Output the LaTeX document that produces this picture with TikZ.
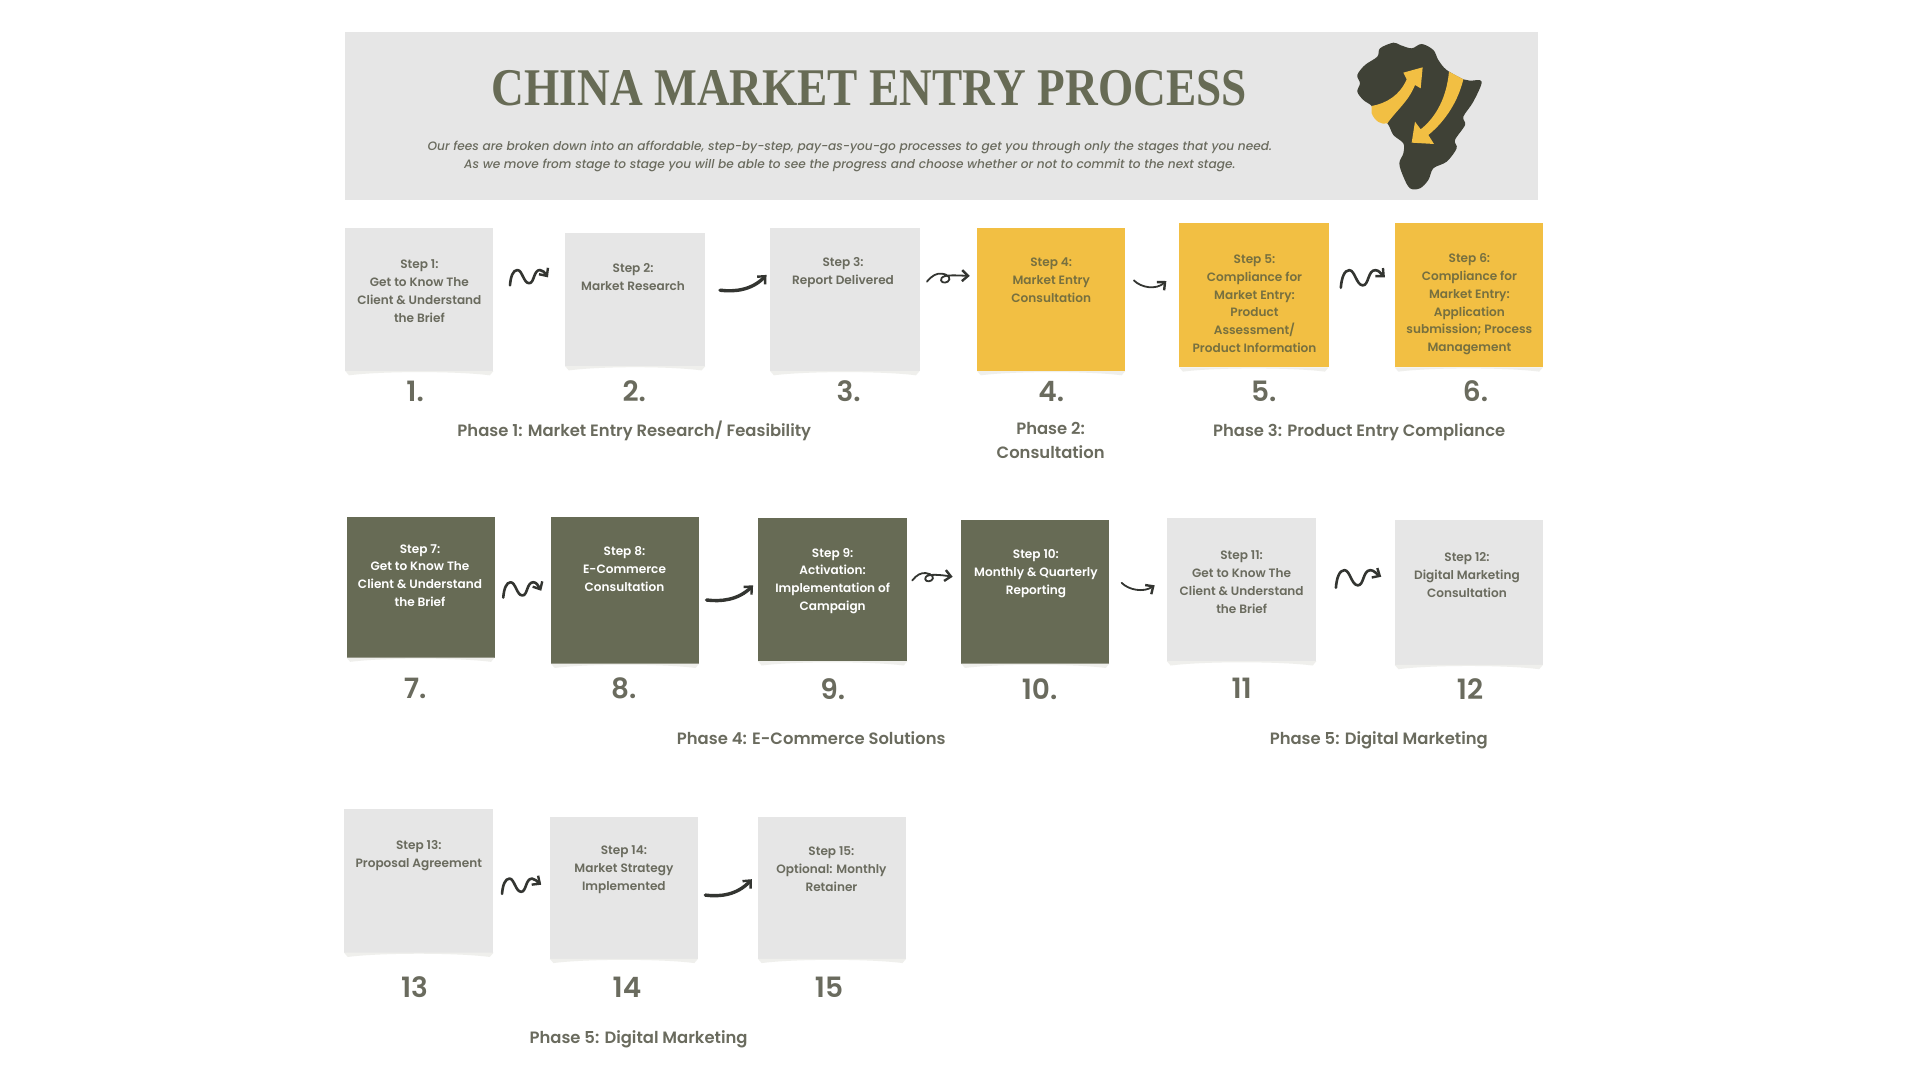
\documentclass[tikz,border=0pt]{standalone}
\usepackage{fontspec}
\usetikzlibrary{arrows.meta,calc}
\setmainfont{Poppins}[UprightFont=* Medium,ItalicFont=* Medium Italic,BoldFont=* SemiBold]
\newfontfamily\titlefont{Liberation Serif}[Ligatures=TeX]
\definecolor{boxgray}{HTML}{E6E6E6}
\definecolor{curlgray}{HTML}{EFEFEC}
\definecolor{boxyellow}{HTML}{F2BF43}
\definecolor{boxolive}{HTML}{676B55}
\definecolor{ink}{HTML}{6A6B5E}
\definecolor{inkyellow}{HTML}{77703F}
\definecolor{africa}{HTML}{3F4136}
\definecolor{sketch}{HTML}{333531}
\tikzset{
  stepshape/.style={inner sep=0pt,outer sep=0pt,draw=none},
  steptext/.style={align=center,inner sep=0pt,font=\fontsize{6.05}{8.95}\selectfont\bfseries},
  stepnum/.style={inner sep=0pt,text=ink,font=\fontsize{14}{16}\selectfont\bfseries},
  phase/.style={align=center,inner sep=0pt,text=ink,font=\fontsize{8.2}{12}\selectfont\bfseries},
  squig/.style={draw=sketch,line width=1.3pt,line cap=round,line join=round,-{Straight Barb[length=3pt,width=5.5pt,line width=1.2pt]}},
}
% name, x1, y1, x2, y2, fill
\newcommand\stepcard[6]{%
  \pgfmathsetmacro\cardw{(#4-#2)*0.61224}%
  \pgfmathsetmacro\cardh{(#5-#3)*0.61224}%
  \node[stepshape,fill=#6,minimum width=\cardw pt,minimum height=\cardh pt,anchor=north west] (#1) at (#2,#3) {};
  \fill[curlgray] (#1.south west) -- ++(3,3.5) .. controls ($(#1.south west)+(30,0)$) and ($(#1.south east)+(-30,0)$) .. ($(#1.south east)+(-3,3.5)$) -- (#1.south east) -- cycle;
}
\newcommand\wavearrow[3]{\draw[squig,shift={(#1)},scale=#3] (#1) .. controls (0.5,-7) and (2.5,-12.5) .. (6,-12.5) .. controls (10,-12.5) and (11,-2) .. (15.5,-1.7) .. controls (20,-1.5) and (19,-12.5) .. (24.5,-12.5) .. controls (27,-12.5) and (28.5,-10) .. (#2);}
\newcommand\sweeparrow[2]{\draw[squig,line width=1.7pt,shift={(#1)}] (#1) .. controls (12,1.5) and (26,0) .. (#2);}
\newcommand\looparrow[3]{\draw[squig,line width=0.9pt,shift={(#1)},scale=#3] (#1) .. controls (4,-5) and (8,-7) .. (12,-6.5) .. controls (18,-6) and (20,-2) .. (17,0) .. controls (14,2) and (10,0) .. (12,-3) .. controls (14,-6) and (25,-5) .. (#2);}
\newcommand\smilearrow[2]{\draw[squig,line width=0.9pt,shift={(#1)}] (#1) .. controls (6,6) and (18,8) .. (#2);}
\begin{document}
\begin{tikzpicture}[x=0.61224pt,y=-0.61224pt]
\useasboundingbox (0,0) rectangle (1568,882);
\fill[white] (0,0) rectangle (1568,882);

% header
\node[stepshape,fill=boxgray,minimum width=596.3pt,minimum height=83.9pt,anchor=north west] (header) at (282,26) {};
\node[inner sep=0pt,text=boxolive,xscale=0.855,font=\titlefont\bfseries\fontsize{26.5}{30}\selectfont] (title) at (710,72) {CHINA MARKET ENTRY PROCESS};
\node[inner sep=0pt,align=center,text=ink,font=\fontsize{6.08}{8.95}\selectfont\itshape] (subtitle) at (694,128) {Our fees are broken down into an affordable, step-by-step, pay-as-you-go processes to get you through only the stages that you need.\\As we move from stage to stage you will be able to see the progress and choose whether or not to commit to the next stage.};

% logo
\begin{scope}[shift={(1061.67,16.33)},scale=0.2722]
\fill[africa] plot[smooth cycle,tension=0.55] coordinates {(280,68) (240,85) (232,110) (195,135) (172,165) (180,190) (172,215) (190,240) (215,258) (225,285) (262,310) (280,345) (310,370) (310,400) (298,430) (310,470) (330,505) (360,505) (385,480) (400,445) (440,425) (470,385) (465,360) (495,315) (490,290) (520,245) (545,185) (510,182) (490,178) (440,150) (415,120) (400,90) (365,72) (335,85) (300,75)};
\fill[boxyellow] (215,258) .. controls (260,250) and (300,225) .. (320,178) -- (310,158) -- (368,142) -- (362,205) -- (345,195) .. controls (325,245) and (290,270) .. (262,310) .. controls (245,315) and (225,305) .. (215,280) -- cycle;
\fill[boxyellow] (447,155) -- (490,178) .. controls (475,240) and (440,300) .. (385,345) -- (402,372) -- (335,368) -- (345,305) -- (362,328) .. controls (410,290) and (440,230) .. (447,155) -- cycle;
\end{scope}

% cards
\stepcard{b1}{282}{186}{403}{303}{boxgray}
\stepcard{b2}{461.5}{190}{576}{299}{boxgray}
\stepcard{b3}{629}{186}{751}{303}{boxgray}
\stepcard{b4}{798}{186}{919}{303}{boxyellow}
\stepcard{b5}{963}{182}{1085}{300}{boxyellow}
\stepcard{b6}{1139}{182}{1260}{300}{boxyellow}
\stepcard{b7}{283}{422}{404}{537}{boxolive}
\stepcard{b8}{450}{422}{571}{542}{boxolive}
\stepcard{b9}{619}{423}{741}{540}{boxolive}
\stepcard{b10}{785}{425}{906}{542}{boxolive}
\stepcard{b11}{953}{423}{1075}{540}{boxgray}
\stepcard{b12}{1139}{425}{1260}{543}{boxgray}
\stepcard{b13}{281}{661}{403}{778}{boxgray}
\stepcard{b14}{449}{667}{570}{783}{boxgray}
\stepcard{b15}{619}{667}{740}{783}{boxgray}

% card text
\node[steptext,text=ink] (t1) at (342.5,238) {Step 1:\\Get to Know The\\Client \& Understand\\the Brief};
\node[steptext,text=ink] (t2) at (517,226) {Step 2:\\Market Research};
\node[steptext,text=ink] (t3) at (688.5,222.5) {Step 3:\\Report Delivered};
\node[steptext,text=inkyellow] (t4) at (858.5,229) {Step 4:\\Market Entry\\Consultation};
\node[steptext,text=inkyellow] (t5) at (1024.5,248) {Step 5:\\Compliance for\\Market Entry:\\Product\\Assessment/\\Product Information};
\node[steptext,text=inkyellow] (t6) at (1200,248.5) {Step 6:\\Compliance for\\Market Entry:\\Application\\submission; Process\\Management};
\node[steptext,text=white] (t7) at (343,470) {Step 7:\\Get to Know The\\Client \& Understand\\the Brief};
\node[steptext,text=white] (t8) at (510,465) {Step 8:\\E-Commerce\\Consultation};
\node[steptext,text=white] (t9) at (680,474.5) {Step 9:\\Activation:\\Implementation of\\Campaign};
\node[steptext,text=white] (t10) at (846,468.5) {Step 10:\\Monthly \& Quarterly\\Reporting};
\node[steptext,text=ink] (t11) at (1014,475.5) {Step 11:\\Get to Know The\\Client \& Understand\\the Brief};
\node[steptext,text=ink] (t12) at (1198,469.5) {Step 12:\\Digital Marketing\\Consultation};
\node[steptext,text=ink] (t13) at (342,698.5) {Step 13:\\Proposal Agreement};
\node[steptext,text=ink] (t14) at (509.5,710) {Step 14:\\Market Strategy\\Implemented};
\node[steptext,text=ink] (t15) at (679,709.5) {Step 15:\\Optional: Monthly\\Retainer};

% numbers
\node[stepnum] (n1) at (339,319.5) {1.};
\node[stepnum] (n2) at (518,319.5) {2.};
\node[stepnum] (n3) at (693,319.5) {3.};
\node[stepnum] (n4) at (858.5,319.5) {4.};
\node[stepnum] (n5) at (1032,319.5) {5.};
\node[stepnum] (n6) at (1205,319.5) {6.};
\node[stepnum] (n7) at (339,562.5) {7.};
\node[stepnum] (n8) at (509.5,562.5) {8.};
\node[stepnum] (n9) at (680,562.5) {9.};
\node[stepnum] (n10) at (849,562.5) {10.};
\node[stepnum] (n11) at (1014,562.5) {11};
\node[stepnum] (n12) at (1200.5,562.5) {12};
\node[stepnum] (n13) at (338.5,806) {13};
\node[stepnum] (n14) at (512,806) {14};
\node[stepnum] (n15) at (677,806) {15};

% phases
\node[phase] (p1) at (518,351.5) {Phase 1: Market Entry Research/ Feasibility};
\node[phase] (p2) at (858,359.5) {Phase 2:\\Consultation};
\node[phase] (p3) at (1110,353) {Phase 3: Product Entry Compliance};
\node[phase] (p4) at (662.5,603) {Phase 4: E-Commerce Solutions};
\node[phase] (p5) at (1126,604.5) {Phase 5: Digital Marketing};
\node[phase] (p6) at (521.5,849) {Phase 5: Digital Marketing};

% connectors
\coordinate (a1s) at (416.5,233); \coordinate (a1e) at (447.5,226.5);
\coordinate (a2s) at (588,237);   \coordinate (a2e) at (626,224.5);
\coordinate (a3s) at (757,230);   \coordinate (a3e) at (792,225.3);
\coordinate (a4s) at (926,229);   \coordinate (a4e) at (952.5,229.5);
\coordinate (a5s) at (1095,235);  \coordinate (a5e) at (1131,226.5);
\coordinate (a7s) at (411,488);   \coordinate (a7e) at (442,482.5);
\coordinate (a8s) at (577,490);   \coordinate (a8e) at (615,478);
\coordinate (a9s) at (745,474);   \coordinate (a9e) at (778,471);
\coordinate (a10s) at (916,476);  \coordinate (a10e) at (943,478);
\coordinate (a11s) at (1091,480); \coordinate (a11e) at (1128,471);
\coordinate (a13s) at (410,730);  \coordinate (a13e) at (442,722.5);
\coordinate (a14s) at (576,731);  \coordinate (a14e) at (614,718);
\wavearrow{a1s}{a1e}{1}
\sweeparrow{a2s}{a2e}
\looparrow{a3s}{a3e}{1}
\smilearrow{a4s}{a4e}
\wavearrow{a5s}{a5e}{1.15}
\wavearrow{a7s}{a7e}{1}
\sweeparrow{a8s}{a8e}
\looparrow{a9s}{a9e}{0.92}
\smilearrow{a10s}{a10e}
\wavearrow{a11s}{a11e}{1.15}
\wavearrow{a13s}{a13e}{1}
\sweeparrow{a14s}{a14e}
\end{tikzpicture}
\end{document}
